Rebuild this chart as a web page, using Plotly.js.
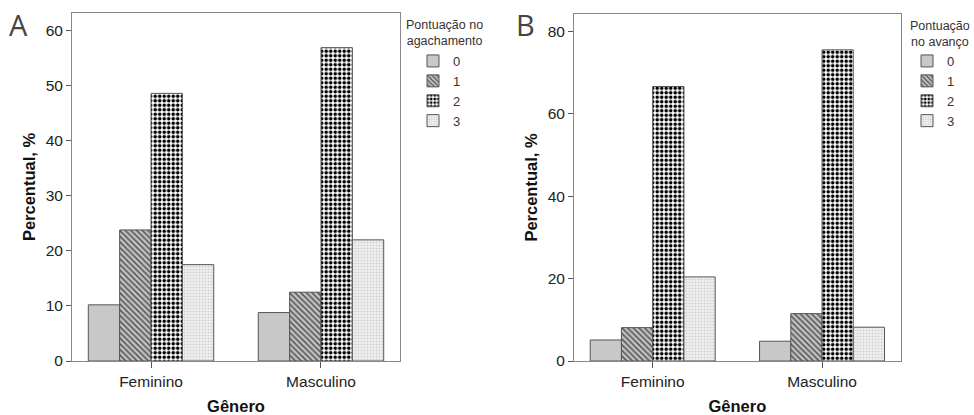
<!DOCTYPE html>
<html><head><meta charset="utf-8">
<script src="https://cdn.plot.ly/plotly-3.0.1.min.js"></script>
<style>html,body{margin:0;padding:0;background:#fff}#chart{width:974px;height:415px}</style>
</head><body><div id="chart"></div>
<script>
const categories = ["Feminino", "Masculino"];
const scoreLabels = ["0", "1", "2", "3"];
// Panel A: Pontuação no agachamento (%)
const squatScore0 = [10.2, 8.8];
const squatScore1 = [23.8, 12.5];
const squatScore2 = [48.6, 56.9];
const squatScore3 = [17.5, 22.0];
// Panel B: Pontuação no avanço (%)
const lungeScore0 = [5.1, 4.8];
const lungeScore1 = [8.1, 11.5];
const lungeScore2 = [66.6, 75.5];
const lungeScore3 = [20.4, 8.2];

const styles = [
  {color: "#c8c8c8", pattern: {shape: ""}},
  {color: "#b0b0b0", pattern: {shape: "\\", fgcolor: "#4a4a4a", bgcolor: "#c0c0c0", size: 4, solidity: 0.35}},
  {color: "#ffffff", pattern: {shape: ".", fgcolor: "#000000", bgcolor: "#ffffff", size: 4.5, solidity: 0.5}},
  {color: "#eeeeee", pattern: {shape: ".", fgcolor: "#cfcfcf", bgcolor: "#f2f2f2", size: 3, solidity: 0.35}}
];

function makeTraces(series, xa, ya, leg) {
  return series.map((vals, i) => ({
    type: "bar", x: categories, y: vals, name: scoreLabels[i],
    xaxis: xa, yaxis: ya, legend: leg,
    marker: {color: styles[i].color, pattern: styles[i].pattern, line: {color: "#555", width: 1}},
    hoverinfo: "y"
  }));
}

const data = [
  ...makeTraces([squatScore0, squatScore1, squatScore2, squatScore3], "x", "y", "legend"),
  ...makeTraces([lungeScore0, lungeScore1, lungeScore2, lungeScore3], "x2", "y2", "legend2")
];

const tickFont = {family: "Liberation Sans, Arial, sans-serif", size: 15.5, color: "#222"};
const titleFont = {family: "Liberation Sans, Arial, sans-serif", size: 16.5, color: "#111", weight: "bold"};

function xAxis(domain, anchor) {
  return {domain: domain, anchor: anchor, type: "category", range: [-0.465, 1.465],
    showline: true, linecolor: "#888", linewidth: 1, mirror: true,
    ticks: "outside", ticklen: 6, tickcolor: "#555", tickfont: tickFont,
    showgrid: false, zeroline: false, fixedrange: true,
    title: {text: "<b>Gênero</b>", font: titleFont, standoff: 11}};
}
function yAxis(domain, anchor, max, dtick) {
  return {domain: domain, anchor: anchor, range: [0, max], dtick: dtick,
    showline: true, linecolor: "#888", linewidth: 1, mirror: true,
    ticks: "outside", ticklen: 5, tickcolor: "#555", tickfont: tickFont,
    showgrid: false, zeroline: false, fixedrange: true,
    title: {text: "<b>Percentual, %</b>", font: titleFont, standoff: 5}};
}

const legendFont = {family: "Liberation Sans, Arial, sans-serif", size: 13, color: "#333"};
const legTitleFont = {family: "Liberation Sans, Arial, sans-serif", size: 12.5, color: "#333"};
const layout = {
  width: 974, height: 415,
  margin: {l: 0, r: 0, t: 0, b: 0},
  paper_bgcolor: "#fff", plot_bgcolor: "#fff",
  barmode: "group", bargap: 0.262, bargroupgap: 0,
  showlegend: true,
  xaxis: xAxis([0.0739, 0.4107], "y"),
  yaxis: yAxis([0.1301, 0.9687], "x", 63.2, 10),
  xaxis2: xAxis([0.5893, 0.9248], "y2"),
  yaxis2: yAxis([0.1301, 0.9663], "x2", 84.2, 20),
  legend: {x: 413/974, y: 1 - 46/415, xanchor: "left", yanchor: "top", font: legendFont,
    bgcolor: "rgba(0,0,0,0)", borderwidth: 0, tracegroupgap: 0, traceorder: "normal"},
  legend2: {x: 907/974, y: 1 - 46/415, xanchor: "left", yanchor: "top", font: legendFont,
    bgcolor: "rgba(0,0,0,0)", borderwidth: 0, tracegroupgap: 0, traceorder: "normal"},
  annotations: [
    {text: "A", x: 18/974, y: 1 - 25/415, xref: "paper", yref: "paper", showarrow: false,
     xanchor: "center", yanchor: "middle",
     font: {family: "Open Sans, DejaVu Sans, sans-serif", size: 29, color: "#444"}},
    {text: "B", x: 525/974, y: 1 - 25/415, xref: "paper", yref: "paper", showarrow: false,
     xanchor: "center", yanchor: "middle",
     font: {family: "Open Sans, DejaVu Sans, sans-serif", size: 29, color: "#444"}},
    {text: "Pontuação no<br>agachamento", x: 444/974, y: 1 - 33/415, xref: "paper", yref: "paper",
     xanchor: "center", yanchor: "middle",
     showarrow: false, align: "center", font: legTitleFont},
    {text: "Pontuação<br>no avanço", x: 940/974, y: 1 - 34/415, xref: "paper", yref: "paper",
     xanchor: "center", yanchor: "middle",
     showarrow: false, align: "center", font: legTitleFont}
  ]
};

Plotly.newPlot("chart", data, layout, {staticPlot: true, displayModeBar: false});
</script></body></html>
